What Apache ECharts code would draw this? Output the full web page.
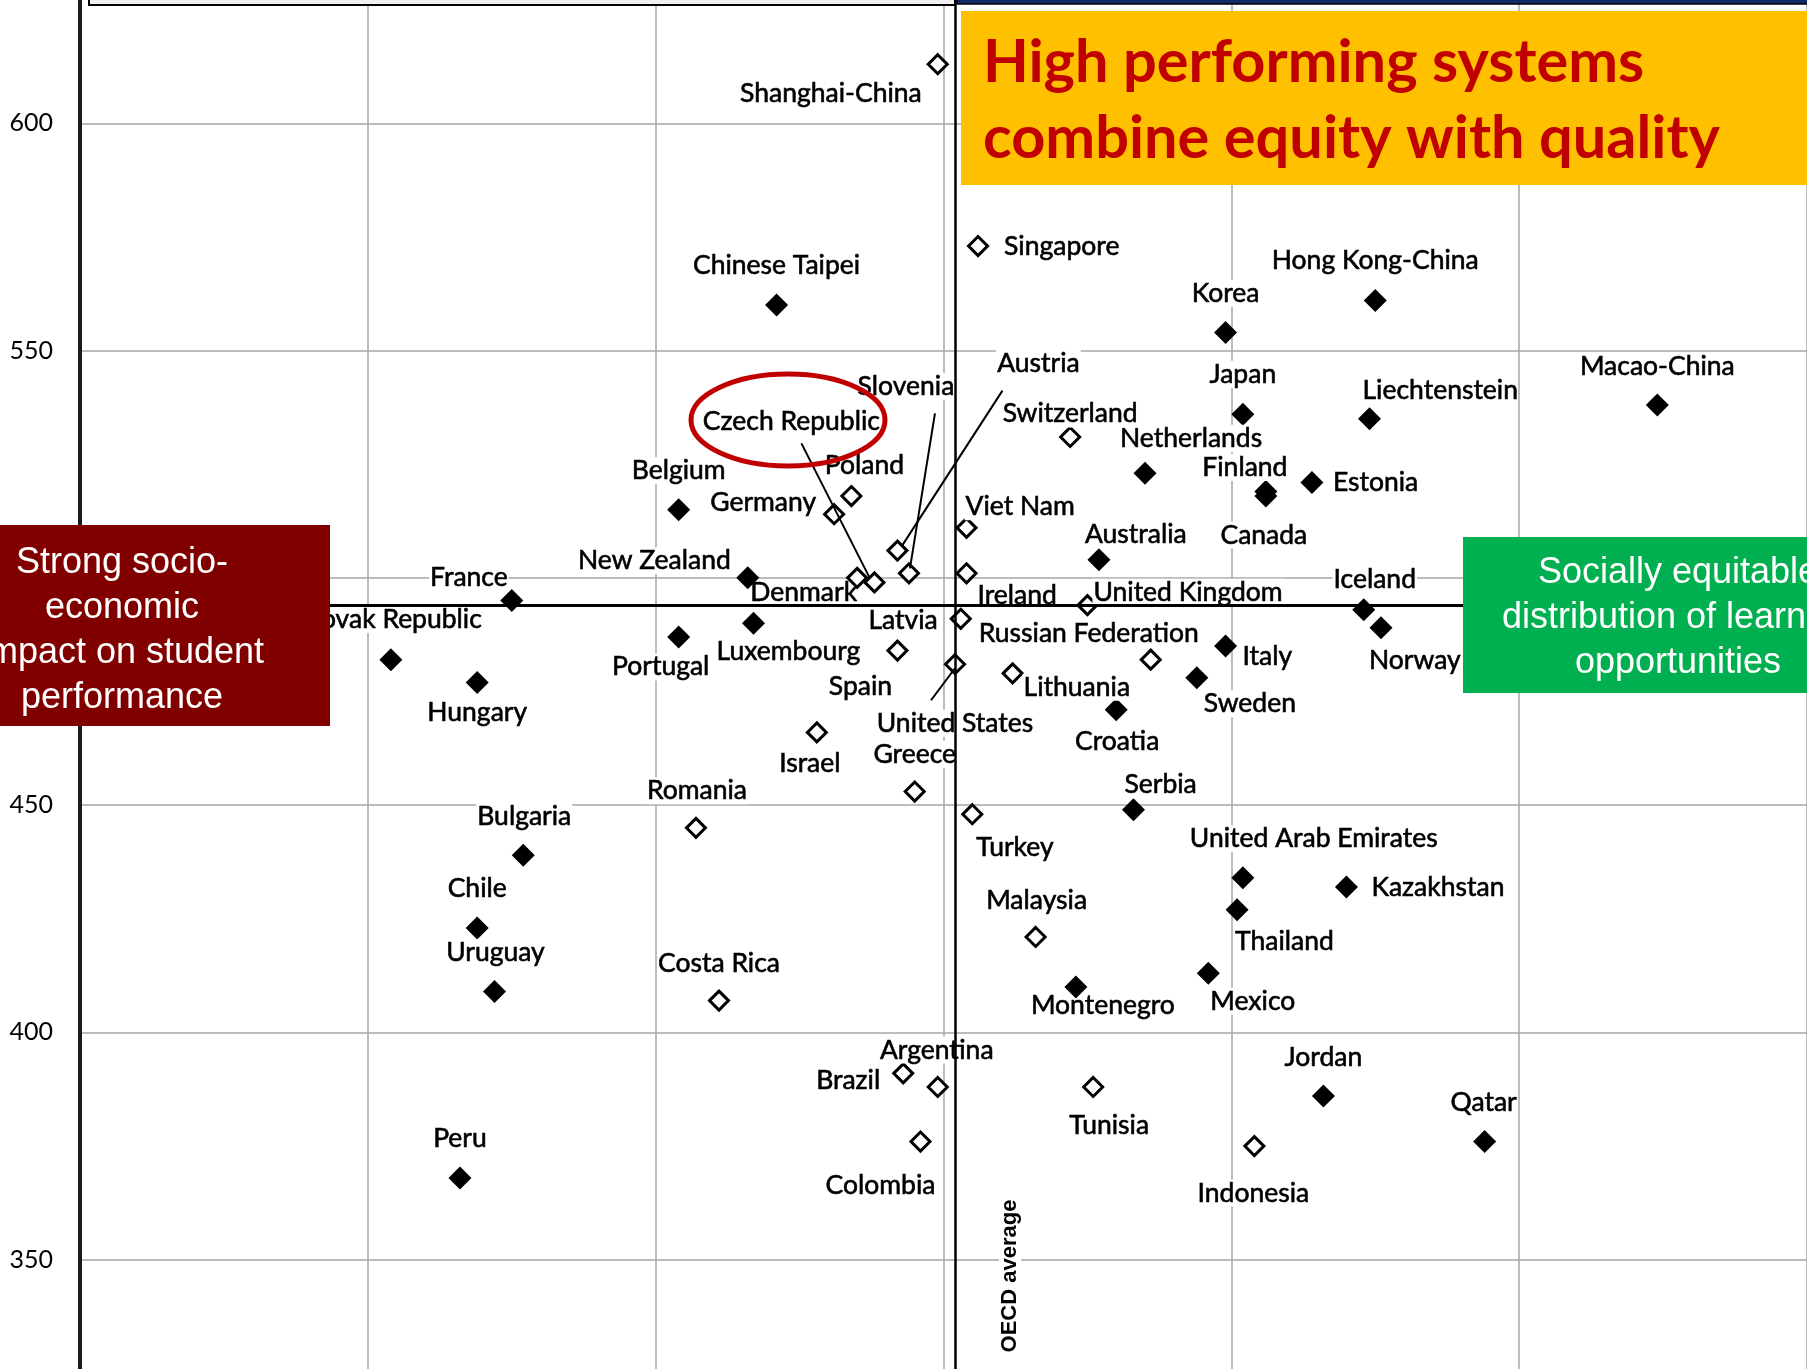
<!DOCTYPE html>
<html>
<head>
<meta charset="utf-8">
<script src="https://cdn.jsdelivr.net/npm/echarts@6/dist/echarts.min.js"></script>
<style>
html,body{margin:0;padding:0;background:#fff;}
#chart{width:1807px;height:1369px;}
</style>
</head>
<body>
<div id="chart"></div>
<script>
// ---- Data (PISA 2012: mean mathematics score vs % variance explained by ESCS) ----
const countries = ['Shanghai-China','Singapore','Hong Kong-China','Chinese Taipei','Korea','Macao-China','Japan','Liechtenstein','Switzerland','Netherlands','Estonia','Finland','Canada','Poland','Belgium','Germany','Viet Nam','Austria','Australia','Ireland','Slovenia','Denmark','New Zealand','Czech Republic','France','United Kingdom','Iceland','Latvia','Luxembourg','Norway','Portugal','Italy','Spain','Russian Federation','Slovak Republic','United States','Lithuania','Sweden','Hungary','Croatia','Israel','Greece','Serbia','Turkey','Romania','Bulgaria','United Arab Emirates','Kazakhstan','Thailand','Chile','Malaysia','Mexico','Montenegro','Uruguay','Costa Rica','Brazil','Argentina','Tunisia','Jordan','Colombia','Qatar','Indonesia','Peru'];
const mathScore = [613,573,561,560,554,538,536,535,531,523,521,519,518,518,515,514,511,506,504,501,501,500,500,499,495,494,493,491,490,489,487,485,484,482,482,481,479,478,477,471,466,453,449,448,445,439,434,432,427,423,421,413,410,409,407,391,388,388,386,376,376,375,368];
const escsVariance = [15.1,14.4,7.5,17.9,10.1,2.6,9.8,7.6,12.8,11.5,8.6,9.4,9.4,16.6,19.6,16.9,14.6,15.8,12.3,14.6,15.6,16.5,18.4,16.2,22.5,12.5,7.7,14.7,18.3,7.4,19.6,10.1,15.8,11.4,24.6,14.8,13.8,10.6,23.1,12.0,17.2,15.5,11.7,14.5,19.3,22.3,9.8,8.0,9.9,23.1,13.4,10.4,12.7,22.8,18.9,15.7,15.1,12.4,8.4,15.4,5.6,9.6,23.4];
// 1 = strength of relationship significantly different from OECD average (filled marker)
const significant = [0,0,1,1,1,1,1,1,0,1,1,1,1,0,1,0,0,0,1,0,0,0,1,0,1,0,1,0,1,1,1,1,0,0,1,0,0,1,1,1,0,0,1,0,0,1,1,1,1,1,0,1,1,1,0,0,0,0,1,0,1,0,1];
const OECD_MATH = 494;
const OECD_ESCS = 14.8;
const yTicks = [300, 650, 50]; // min, max, interval
const xTicks = [0, 30, 5];

// ---- Label placement (pixels relative to marker; layout only) ----
const LABEL_POS = {
 'Shanghai-China':[-15,29,'right'],'Singapore':[25,0,'left'],'Chinese Taipei':[0,-40,'center'],
 'Hong Kong-China':[0,-40,'center'],'Korea':[0,-39,'center'],'Macao-China':[0,-39,'center'],
 'Japan':[0,-40,'center'],'Liechtenstein':[-8,-28,'left'],'Switzerland':[0,-23,'center'],
 'Netherlands':[-26,-35,'left'],'Finland':[-21,-24,'center'],'Canada':[-2,39,'center'],
 'Estonia':[20,0,'left'],'Poland':[13,-31,'center'],'Belgium':[0,-39,'center'],
 'Germany':[-17,-12,'right'],'Viet Nam':[-2,-21,'left'],'Austria':[141,-187,'center'],
 'Australia':[-15,-25,'left'],'Ireland':[10,22,'left'],'Slovenia':[-3,-187,'center'],
 'Denmark':[1,15,'right'],'Czech Republic':[-83,-161,'center'],'New Zealand':[-16,-17,'right'],
 'France':[-3,-23,'right'],'United Kingdom':[5,-13,'left'],'Iceland':[11,-30,'center'],
 'Latvia':[-22,2,'right'],'Norway':[-13,33,'left'],'Luxembourg':[-38,28,'left'],
 'Portugal':[-18,30,'center'],'Slovak Republic':[92,-40,'right'],'Italy':[16,10,'left'],
 'Spain':[-37,36,'center'],'Russian Federation':[-173,-26,'left'],'United States':[0,59,'center'],
 'Lithuania':[10,14,'left'],'Sweden':[6,26,'left'],'Hungary':[0,30,'center'],
 'Croatia':[1,32,'center'],'Israel':[-7,31,'center'],'Greece':[0,-37,'center'],
 'Serbia':[-10,-25,'left'],'Turkey':[3,33,'left'],'Romania':[1,-37,'center'],
 'Bulgaria':[1,-39,'center'],'United Arab Emirates':[-54,-39,'left'],'Kazakhstan':[24,0,'left'],
 'Thailand':[-3,32,'left'],'Chile':[0,-39,'center'],'Malaysia':[1,-37,'center'],
 'Mexico':[1,28,'left'],'Montenegro':[-46,18,'left'],'Uruguay':[1,-39,'center'],
 'Costa Rica':[0,-37,'center'],'Argentina':[-1,-37,'center'],'Brazil':[-22,7,'right'],
 'Tunisia':[16,38,'center'],'Jordan':[0,-39,'center'],'Colombia':[-40,44,'center'],
 'Qatar':[-1,-39,'center'],'Indonesia':[-1,47,'center'],'Peru':[0,-39,'center']
};
// labels whose box must not mask their own marker
const NO_LABEL_BG = ['Montenegro', 'Denmark', 'Liechtenstein'];
// leader lines: [start dx, dy from label centre, end dx, dy from marker centre]
const LEADERS = {
 'Czech Republic':[10,22,-5,-5],
 'Slovenia':[29,27,1,-5],
 'Austria':[-36,27,4,-4],
 'United States':[-24,-23,0,4]
};

function buildData(flag) {
  const out = [];
  countries.forEach((c, i) => {
    if (significant[i] !== flag) return;
    const item = { name: c, value: [escsVariance[i], mathScore[i]] };
    if (NO_LABEL_BG.indexOf(c) >= 0) item.label = { backgroundColor: 'transparent' };
    out.push(item);
  });
  return out;
}
const filledData = buildData(1);
const hollowData = buildData(0);
const seriesNames = [filledData.map(d => d.name), hollowData.map(d => d.name)];

const labelCommon = {
  show: true, position: 'inside', formatter: '{b}',
  color: '#000', fontFamily: 'Lato', fontSize: 26.5,
  backgroundColor: '#fff', padding: [0, 1],
  textBorderColor: '#000', textBorderWidth: 0.6
};
function layoutFn(params) {
  const names = seriesNames[params.seriesIndex] || [];
  const p = LABEL_POS[names[params.dataIndex]] || [0, -39, 'center'];
  return { dx: p[0], dy: p[1], align: p[2], verticalAlign: 'middle' };
}

const chart = echarts.init(document.getElementById('chart'), null, { renderer: 'canvas' });
const baseGraphic = [
  { type: 'rect', z: 100, shape: { x: 89, y: -20, width: 866, height: 25 }, style: { fill: '#efefef', stroke: '#000', lineWidth: 2 } },
  { type: 'rect', z: 100, shape: { x: 957, y: -20, width: 870, height: 24 }, style: { fill: '#0f2b6b', stroke: '#000', lineWidth: 1.5 } },
  { type: 'rect', z: 100, shape: { x: 961, y: 11, width: 870, height: 174 }, style: { fill: '#FFC000' } },
  { type: 'text', z: 101, x: 983, y: 101, style: { text: 'High performing systems\ncombine equity with quality', font: 'bold 59.5px Lato', fill: '#C00000', textAlign: 'left', align: 'left', textVerticalAlign: 'middle', verticalAlign: 'middle', lineHeight: 76 } },
  { type: 'rect', z: 100, shape: { x: -90, y: 525, width: 420, height: 201 }, style: { fill: '#800000' } },
  { type: 'text', z: 101, x: 122, y: 631, style: { text: 'Strong socio-\neconomic\nimpact on student\nperformance', font: '36px "Liberation Sans"', fill: '#fff', textAlign: 'center', align: 'center', textVerticalAlign: 'middle', verticalAlign: 'middle', lineHeight: 45 } },
  { type: 'rect', z: 100, shape: { x: 1463, y: 537, width: 450, height: 156 }, style: { fill: '#00B050' } },
  { type: 'text', z: 101, x: 1678, y: 618, style: { text: 'Socially equitable\ndistribution of learning\nopportunities', font: '36px "Liberation Sans"', fill: '#fff', textAlign: 'center', align: 'center', textVerticalAlign: 'middle', verticalAlign: 'middle', lineHeight: 45 } },
  { type: 'ellipse', z: 100, shape: { cx: 788, cy: 420, rx: 97, ry: 46 }, style: { fill: 'none', stroke: '#C00000', lineWidth: 5 } },
  { type: 'text', z: 100, x: 1010, y: 1276, rotation: Math.PI / 2, style: { text: 'OECD average', font: 'bold 22px "Liberation Sans"', fill: '#000', textAlign: 'center', align: 'center', textVerticalAlign: 'middle', verticalAlign: 'middle', backgroundColor: '#fff', padding: [0, 3] } }
];
const option = {
  animation: false,
  backgroundColor: '#fff',
  grid: { left: 80, right: 0, top: -104, bottom: -118, outerBoundsMode: 'none', containLabel: false },
  xAxis: {
    type: 'value', min: xTicks[0], max: xTicks[1], interval: xTicks[2], inverse: true,
    axisLine: { show: false, onZero: false }, axisTick: { show: false }, axisLabel: { show: false },
    splitLine: { show: true, lineStyle: { color: '#a6a6a6', width: 1.5 } }
  },
  yAxis: {
    type: 'value', min: yTicks[0], max: yTicks[1], interval: yTicks[2],
    axisLine: { show: true, onZero: false, lineStyle: { color: '#1a1a1a', width: 4 } },
    axisTick: { show: false },
    axisLabel: { color: '#000', fontFamily: 'Lato', fontSize: 25, margin: 27 },
    splitLine: { show: true, lineStyle: { color: '#a6a6a6', width: 1.5 } }
  },
  series: [
    {
      type: 'scatter', name: 'filled', z: 2, symbol: 'diamond', symbolSize: 23,
      itemStyle: { color: '#000', opacity: 1 },
      label: labelCommon, labelLayout: layoutFn,
      data: filledData
    },
    {
      type: 'scatter', name: 'hollow', z: 2, symbol: 'diamond', symbolSize: 19,
      itemStyle: { color: '#fff', borderColor: '#000', borderWidth: 3, opacity: 1 },
      label: labelCommon, labelLayout: layoutFn,
      data: hollowData
    },
    {
      type: 'scatter', name: 'oecd', z: 5, data: [], silent: true,
      markLine: {
        silent: true, symbol: 'none', animation: false, label: { show: false },
        lineStyle: { color: '#000', type: 'solid' },
        data: [
          { xAxis: OECD_ESCS, lineStyle: { width: 2.5, color: '#000', type: 'solid' } },
          { yAxis: OECD_MATH, lineStyle: { width: 3, color: '#000', type: 'solid' } }
        ]
      }
    }
  ],
  graphic: baseGraphic
};
chart.setOption(option);

// leader lines placed through the chart's own coordinate conversion
const leaderGraphic = Object.keys(LEADERS).map(name => {
  const i = countries.indexOf(name);
  const p = chart.convertToPixel({ gridIndex: 0 }, [escsVariance[i], mathScore[i]]);
  const lp = LABEL_POS[name], L = LEADERS[name];
  return {
    type: 'line', z: 50,
    shape: { x1: p[0] + lp[0] + L[0], y1: p[1] + lp[1] + L[1], x2: p[0] + L[2], y2: p[1] + L[3] },
    style: { stroke: '#000', lineWidth: 2 }
  };
});
chart.setOption({ graphic: baseGraphic.concat(leaderGraphic) });
</script>
</body>
</html>
